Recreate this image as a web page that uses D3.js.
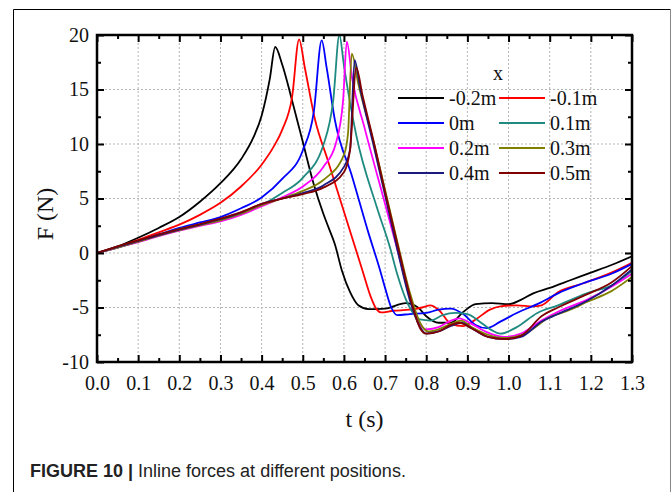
<!DOCTYPE html>
<html>
<head>
<meta charset="utf-8">
<script src="https://cdn.jsdelivr.net/npm/d3@7"></script>
<style>
  html, body { margin: 0; padding: 0; background: #fff; }
  svg { display: block; }
</style>
</head>
<body>
<svg id="chart" width="672" height="492"></svg>
<script>
// ---------------- data (t in s, F in N) ----------------
const seriesNames = ["-0.2m", "-0.1m", "0m", "0.1m", "0.2m", "0.3m", "0.4m", "0.5m"];
const seriesColors = ["#000000", "#ff0000", "#0000ff", "#1f8a80", "#ff00ff", "#808000", "#1a1a80", "#800000"];

const xTicks = [0.0, 0.1, 0.2, 0.3, 0.4, 0.5, 0.6, 0.7, 0.8, 0.9, 1.0, 1.1, 1.2, 1.3];
const yTicks = [-10, -5, 0, 5, 10, 15, 20];

const data_m02 = [[0,0],[0.05,0.6],[0.1,1.4],[0.15,2.3],[0.2,3.3],[0.25,4.7],[0.3,6.4],[0.35,8.6],[0.38,10.6],[0.4,12.6],[0.42,16.0],[0.433,18.9],[0.45,17.3],[0.474,14.0],[0.5,10.2],[0.526,6.4],[0.55,3.6],[0.563,2.3],[0.578,0.8],[0.595,-1.6],[0.615,-3.6],[0.635,-4.8],[0.66,-5.15],[0.7,-5.1],[0.75,-4.6],[0.78,-5.0],[0.8,-5.8],[0.83,-6.4],[0.86,-6.4],[0.89,-5.4],[0.92,-4.7],[0.96,-4.6],[1.0,-4.7],[1.03,-4.3],[1.06,-3.7],[1.1,-3.2],[1.15,-2.5],[1.2,-1.8],[1.25,-1.1],[1.3,-0.3]];
const data_m01 = [[0,0],[0.05,0.55],[0.1,1.2],[0.15,1.9],[0.2,2.6],[0.25,3.5],[0.3,4.6],[0.35,6.1],[0.4,8.1],[0.43,9.8],[0.45,11.3],[0.474,14.3],[0.491,19.6],[0.505,17.0],[0.53,12.2],[0.56,8.6],[0.6,3.8],[0.645,-1.6],[0.665,-4.0],[0.68,-5.2],[0.69,-5.45],[0.72,-5.3],[0.76,-5.2],[0.79,-5.0],[0.81,-4.8],[0.83,-5.2],[0.86,-6.5],[0.89,-6.7],[0.92,-6.1],[0.955,-5.2],[0.98,-4.9],[1.02,-4.8],[1.06,-4.9],[1.08,-4.8],[1.12,-3.6],[1.18,-2.8],[1.25,-1.8],[1.3,-0.9]];
const data_0 = [[0,0],[0.05,0.5],[0.1,1.1],[0.15,1.7],[0.2,2.3],[0.25,2.8],[0.3,3.3],[0.35,4.1],[0.4,5.1],[0.45,6.8],[0.5,9.4],[0.527,13.0],[0.546,19.5],[0.558,17.0],[0.578,12.2],[0.62,7.0],[0.66,1.8],[0.688,-1.6],[0.7,-3.2],[0.715,-5.0],[0.73,-5.7],[0.76,-5.6],[0.8,-5.5],[0.83,-5.2],[0.86,-5.1],[0.89,-5.6],[0.92,-6.6],[0.947,-6.9],[0.98,-6.3],[1.02,-5.5],[1.075,-4.6],[1.12,-3.7],[1.18,-2.8],[1.25,-1.9],[1.3,-1.0]];
const data_01 = [[0,0],[0.05,0.5],[0.1,1.05],[0.15,1.65],[0.2,2.2],[0.25,2.6],[0.3,3.0],[0.35,3.6],[0.4,4.4],[0.45,5.5],[0.5,6.9],[0.55,9.9],[0.574,14.0],[0.589,20.0],[0.6,17.2],[0.63,10.8],[0.68,4.2],[0.712,0.5],[0.73,-2.0],[0.75,-4.2],[0.77,-5.6],[0.785,-6.1],[0.81,-6.2],[0.84,-5.7],[0.87,-5.5],[0.9,-5.6],[0.93,-6.3],[0.96,-7.1],[0.98,-7.4],[1.02,-6.8],[1.07,-5.5],[1.12,-4.8],[1.19,-3.7],[1.26,-2.8],[1.3,-1.6]];
const data_02 = [[0,0],[0.05,0.5],[0.1,1.0],[0.15,1.55],[0.2,2.05],[0.25,2.5],[0.3,2.9],[0.35,3.5],[0.4,4.3],[0.45,5.1],[0.5,6.1],[0.55,7.9],[0.58,10.0],[0.598,14.0],[0.607,19.4],[0.62,16.0],[0.65,11.5],[0.7,4.5],[0.73,0.3],[0.76,-4.0],[0.78,-6.2],[0.8,-7.0],[0.83,-6.8],[0.86,-6.2],[0.88,-6.0],[0.91,-6.5],[0.95,-7.3],[0.99,-7.7],[1.03,-7.4],[1.08,-6.2],[1.12,-5.4],[1.19,-4.3],[1.25,-3.1],[1.3,-1.9]];
const data_03 = [[0,0],[0.05,0.5],[0.1,1.05],[0.15,1.6],[0.2,2.1],[0.25,2.55],[0.3,3.0],[0.35,3.6],[0.4,4.4],[0.45,5.0],[0.5,5.7],[0.55,6.7],[0.6,9.0],[0.61,11.0],[0.619,18.3],[0.635,15.5],[0.67,10.5],[0.7,5.8],[0.73,1.0],[0.76,-3.6],[0.785,-6.4],[0.805,-7.2],[0.83,-7.0],[0.86,-6.5],[0.885,-6.2],[0.91,-6.8],[0.95,-7.5],[0.995,-7.8],[1.04,-7.4],[1.1,-5.9],[1.15,-5.2],[1.19,-4.5],[1.25,-3.5],[1.3,-2.2]];
const data_04 = [[0,0],[0.05,0.55],[0.1,1.1],[0.15,1.65],[0.2,2.15],[0.25,2.6],[0.3,3.1],[0.35,3.7],[0.4,4.5],[0.45,5.0],[0.5,5.5],[0.55,6.2],[0.6,7.9],[0.615,9.5],[0.626,17.7],[0.64,15.0],[0.67,10.2],[0.7,5.3],[0.73,0.3],[0.76,-4.3],[0.785,-6.8],[0.8,-7.4],[0.83,-7.2],[0.86,-6.7],[0.885,-6.4],[0.91,-6.9],[0.95,-7.7],[0.99,-7.9],[1.03,-7.7],[1.08,-6.3],[1.12,-5.6],[1.19,-4.4],[1.25,-3.0],[1.3,-1.5]];
const data_05 = [[0,0],[0.05,0.6],[0.1,1.15],[0.15,1.7],[0.2,2.2],[0.25,2.65],[0.3,3.15],[0.35,3.75],[0.4,4.5],[0.45,5.0],[0.5,5.4],[0.55,6.0],[0.6,7.4],[0.615,9.5],[0.63,17.0],[0.645,14.5],[0.675,9.8],[0.7,5.6],[0.735,0.0],[0.765,-4.6],[0.785,-6.9],[0.8,-7.4],[0.83,-7.2],[0.86,-6.6],[0.88,-6.4],[0.91,-6.9],[0.95,-7.7],[0.99,-7.9],[1.03,-7.6],[1.08,-5.8],[1.12,-5.0],[1.19,-3.8],[1.25,-2.7],[1.3,-1.2]];

const allSeries = [data_m02, data_m01, data_0, data_01, data_02, data_03, data_04, data_05];

// ---------------- layout ----------------
const svg = d3.select("#chart");
const plot = { left: 97, right: 632, top: 35, bottom: 362 };
const serif = "'Liberation Serif', 'Times New Roman', Times, serif";

const x = d3.scaleLinear().domain([0, 1.3]).range([plot.left, plot.right]);
const y = d3.scaleLinear().domain([-10, 20]).range([plot.bottom, plot.top]);

// outer figure frame
svg.append("line").attr("x1", 13.5).attr("x2", 13.5).attr("y1", 9.5).attr("y2", 492).attr("stroke", "#000").attr("stroke-width", 1);
svg.append("line").attr("x1", 13.5).attr("x2", 670.5).attr("y1", 9.5).attr("y2", 9.5).attr("stroke", "#000").attr("stroke-width", 1);
svg.append("line").attr("x1", 670.5).attr("x2", 670.5).attr("y1", 9.5).attr("y2", 492).attr("stroke", "#888").attr("stroke-width", 1);

// grid
const grid = svg.append("g");
grid.selectAll("line.gx").data(xTicks.slice(1, -1)).join("line")
  .attr("x1", d => x(d)).attr("x2", d => x(d))
  .attr("y1", plot.top).attr("y2", plot.bottom)
  .attr("stroke", "#b5b5b5").attr("stroke-width", 1).attr("stroke-dasharray", "2,2");
grid.selectAll("line.gy").data(yTicks.slice(1, -1)).join("line")
  .attr("x1", plot.left).attr("x2", plot.right)
  .attr("y1", d => y(d)).attr("y2", d => y(d))
  .attr("stroke", "#b5b5b5").attr("stroke-width", 1).attr("stroke-dasharray", "2,2");

// series lines
svg.append("clipPath").attr("id", "clip").append("rect")
  .attr("x", plot.left).attr("y", plot.top - 2)
  .attr("width", plot.right - plot.left).attr("height", plot.bottom - plot.top + 2);

const line = d3.line().x(d => x(d[0])).y(d => y(d[1])).curve(d3.curveMonotoneX);
svg.append("g").attr("clip-path", "url(#clip)")
  .selectAll("path").data(allSeries).join("path")
  .attr("d", line)
  .attr("fill", "none")
  .attr("stroke", (d, i) => seriesColors[i])
  .attr("stroke-width", 1.8)
  .attr("stroke-linejoin", "round");

// axes
const xMinor = d3.range(0.05, 1.3, 0.1);
const yMinor = d3.range(-7.5, 20, 5);

function styleAxis(g) {
  g.select(".domain").remove();
  g.selectAll(".tick line").attr("stroke", "#000").attr("stroke-width", 2);
  g.selectAll(".tick text").attr("font-family", serif).attr("font-size", 20).attr("fill", "#111");
}

svg.append("g").attr("transform", `translate(0,${plot.bottom})`)
  .call(d3.axisBottom(x).tickValues(xTicks).tickFormat(d => d.toFixed(1)).tickSize(-7).tickPadding(14))
  .call(styleAxis);
svg.append("g").attr("transform", `translate(0,${plot.bottom})`)
  .call(d3.axisBottom(x).tickValues(xMinor).tickFormat("").tickSize(-4))
  .call(styleAxis);
svg.append("g").attr("transform", `translate(0,${plot.top})`)
  .call(d3.axisTop(x).tickValues(xTicks).tickFormat("").tickSize(-7))
  .call(styleAxis);
svg.append("g").attr("transform", `translate(0,${plot.top})`)
  .call(d3.axisTop(x).tickValues(xMinor).tickFormat("").tickSize(-4))
  .call(styleAxis);

svg.append("g").attr("transform", `translate(${plot.left},0)`)
  .call(d3.axisLeft(y).tickValues(yTicks).tickFormat(d => String(d)).tickSize(-7).tickPadding(8))
  .call(styleAxis);
svg.append("g").attr("transform", `translate(${plot.left},0)`)
  .call(d3.axisLeft(y).tickValues(yMinor).tickFormat("").tickSize(-4))
  .call(styleAxis);
svg.append("g").attr("transform", `translate(${plot.right},0)`)
  .call(d3.axisRight(y).tickValues(yTicks).tickFormat("").tickSize(-7))
  .call(styleAxis);
svg.append("g").attr("transform", `translate(${plot.right},0)`)
  .call(d3.axisRight(y).tickValues(yMinor).tickFormat("").tickSize(-4))
  .call(styleAxis);

// frame of plot
svg.append("rect")
  .attr("x", plot.left).attr("y", plot.top)
  .attr("width", plot.right - plot.left).attr("height", plot.bottom - plot.top)
  .attr("fill", "none").attr("stroke", "#000").attr("stroke-width", 2.5);

// axis titles
svg.append("text").attr("x", (plot.left + plot.right) / 2).attr("y", 427)
  .attr("text-anchor", "middle").attr("font-family", serif).attr("font-size", 24).attr("fill", "#111")
  .text("t (s)");
svg.append("text").attr("transform", "translate(53,214) rotate(-90)")
  .attr("text-anchor", "middle").attr("font-family", serif).attr("font-size", 24).attr("fill", "#111")
  .text("F (N)");

// legend
const legend = svg.append("g");
legend.append("text").attr("x", 498).attr("y", 80).attr("text-anchor", "middle")
  .attr("font-family", serif).attr("font-size", 20).attr("fill", "#111").text("x");
const colX = [398, 499];
const rowY0 = 98, rowH = 25;
seriesNames.forEach((name, i) => {
  const cx = colX[i % 2], cy = rowY0 + Math.floor(i / 2) * rowH;
  legend.append("line").attr("x1", cx).attr("x2", cx + 46).attr("y1", cy).attr("y2", cy)
    .attr("stroke", seriesColors[i]).attr("stroke-width", 2);
  legend.append("text").attr("x", cx + 51).attr("y", cy + 7)
    .attr("font-family", serif).attr("font-size", 20).attr("fill", "#111").text(name);
});

// caption
const cap = svg.append("text").attr("x", 30).attr("y", 477)
  .attr("font-family", "'Liberation Sans', Arial, Helvetica, sans-serif").attr("font-size", 18).attr("fill", "#222");
cap.append("tspan").attr("font-weight", "bold").text("FIGURE 10 | ");
cap.append("tspan").text("Inline forces at different positions.");
</script>
</body>
</html>
